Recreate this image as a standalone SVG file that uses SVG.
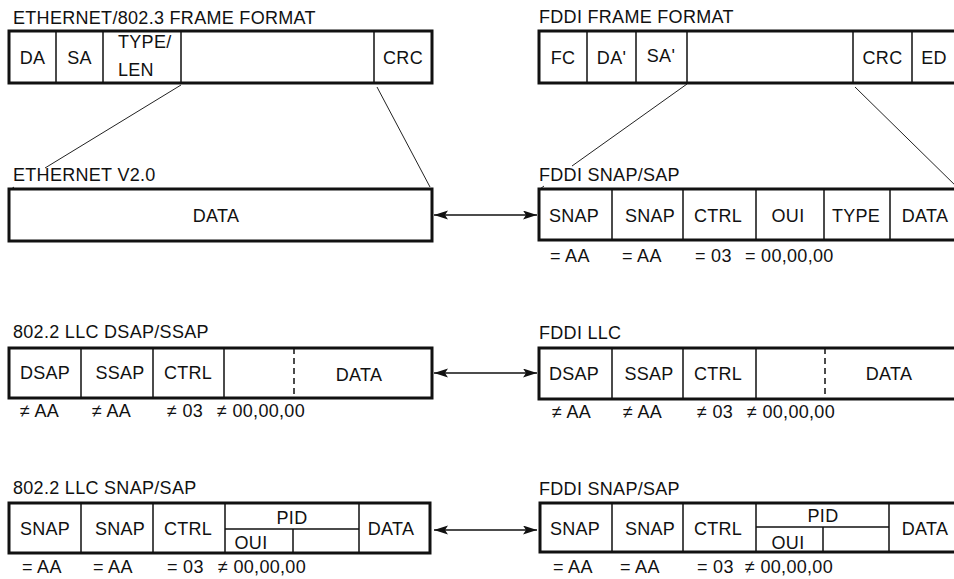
<svg xmlns="http://www.w3.org/2000/svg" width="954" height="579" viewBox="0 0 954 579">
  <style>
    .box { fill: #fff; stroke: #111; stroke-width: 3; }
    .div { stroke: #111; stroke-width: 1.5; fill: none; }
    .dash { stroke: #111; stroke-width: 1.5; stroke-dasharray: 6 4; fill: none; }
    .t { font-family: "Liberation Sans", Arial, Helvetica, sans-serif; font-size: 18px; letter-spacing: 0.3px; fill: #111; }
    .c { text-anchor: middle; }
    .link { stroke: #222; stroke-width: 1; fill: none; }
    .arr { stroke: #111; stroke-width: 1.5; fill: none; marker-start: url(#head); marker-end: url(#head); }
  </style>
  <defs>
    <marker id="head" markerUnits="userSpaceOnUse" markerWidth="16" markerHeight="10" refX="14" refY="4.5" orient="auto-start-reverse">
      <path d="M0,0 L14,4.5 L0,9 L3,4.5 Z" fill="#111"/>
    </marker>
  </defs>
  <rect width="954" height="579" fill="#fff"/>

  <!-- expansion lines and conversion arrows -->
  <g id="connectors">
    <line class="link" x1="181" y1="85" x2="45" y2="168"/>
    <line class="link" x1="14" y1="187" x2="10" y2="190"/>
    <line class="link" x1="377" y1="87" x2="430" y2="187"/>
    <line class="link" x1="687" y1="84" x2="572" y2="166"/>
    <line class="link" x1="544" y1="186" x2="540" y2="189"/>
    <line class="link" x1="855" y1="87" x2="960" y2="190"/>
    <line class="arr" x1="434" y1="215" x2="537" y2="215"/>
    <line class="arr" x1="434" y1="373" x2="537" y2="373"/>
    <line class="arr" x1="434" y1="530" x2="537" y2="530"/>
  </g>

  <!-- Ethernet / 802.3 frame -->
  <g id="eth-frame">
    <text class="t" x="13" y="24">ETHERNET/802.3 FRAME FORMAT</text>
    <rect class="box" x="9" y="31" width="423" height="52"/>
    <path class="div" d="M56,31V83 M103,31V83 M181,31V83 M374,31V83"/>
    <text class="t c" x="32.5" y="64">DA</text>
    <text class="t c" x="79.5" y="64">SA</text>
    <text class="t" x="118" y="48">TYPE/</text>
    <text class="t" x="118" y="76">LEN</text>
    <text class="t c" x="403" y="64">CRC</text>
  </g>

  <!-- FDDI frame -->
  <g id="fddi-frame">
    <text class="t" x="539" y="23">FDDI FRAME FORMAT</text>
    <rect class="box" x="539" y="31" width="430" height="52"/>
    <path class="div" d="M587,31V83 M636,31V83 M687,31V83 M853,31V83 M912,31V83"/>
    <text class="t c" x="563" y="64">FC</text>
    <text class="t c" x="611.5" y="64">DA'</text>
    <text class="t c" x="661" y="62">SA'</text>
    <text class="t c" x="882.5" y="64">CRC</text>
    <text class="t c" x="934" y="64">ED</text>
  </g>

  <!-- Ethernet V2.0 -->
  <g id="eth-v2">
    <text class="t" x="13" y="181">ETHERNET V2.0</text>
    <rect class="box" x="9" y="189" width="423" height="52"/>
    <text class="t c" x="216" y="222">DATA</text>
  </g>

  <!-- FDDI SNAP/SAP (upper) -->
  <g id="fddi-snap-1">
    <text class="t" x="539" y="181">FDDI SNAP/SAP</text>
    <rect class="box" x="539" y="189" width="430" height="51"/>
    <path class="div" d="M612,189V240 M683,189V240 M756,189V240 M824,189V240 M890,189V240"/>
    <text class="t c" x="574" y="222">SNAP</text>
    <text class="t c" x="650" y="222">SNAP</text>
    <text class="t c" x="718" y="222">CTRL</text>
    <text class="t c" x="788" y="222">OUI</text>
    <text class="t c" x="856" y="222">TYPE</text>
    <text class="t c" x="925" y="222">DATA</text>
    <text class="t" x="550" y="262">= AA</text>
    <text class="t" x="622" y="262">= AA</text>
    <text class="t" x="695" y="262">= 03</text>
    <text class="t" x="745" y="262">= 00,00,00</text>
  </g>

  <!-- 802.2 LLC DSAP/SSAP -->
  <g id="llc-dsap">
    <text class="t" x="13" y="338">802.2 LLC DSAP/SSAP</text>
    <rect class="box" x="9" y="348" width="423" height="50"/>
    <path class="div" d="M81,348V398 M153,348V398 M224,348V398"/>
    <path class="dash" d="M294,348V398"/>
    <text class="t c" x="45" y="379">DSAP</text>
    <text class="t c" x="120" y="379">SSAP</text>
    <text class="t c" x="188" y="379">CTRL</text>
    <text class="t c" x="359" y="381">DATA</text>
    <text class="t" x="20" y="417">≠ AA</text>
    <text class="t" x="92" y="417">≠ AA</text>
    <text class="t" x="167" y="417">≠ 03</text>
    <text class="t" x="217" y="417">≠ 00,00,00</text>
  </g>

  <!-- FDDI LLC -->
  <g id="fddi-llc">
    <text class="t" x="539" y="339">FDDI LLC</text>
    <rect class="box" x="539" y="348" width="430" height="51"/>
    <path class="div" d="M612,348V399 M683,348V399 M756,348V399"/>
    <path class="dash" d="M825,348V399"/>
    <text class="t c" x="574" y="380">DSAP</text>
    <text class="t c" x="649" y="380">SSAP</text>
    <text class="t c" x="718" y="380">CTRL</text>
    <text class="t c" x="889" y="380">DATA</text>
    <text class="t" x="552" y="418">≠ AA</text>
    <text class="t" x="623" y="418">≠ AA</text>
    <text class="t" x="697" y="418">≠ 03</text>
    <text class="t" x="747" y="418">≠ 00,00,00</text>
  </g>

  <!-- 802.2 LLC SNAP/SAP -->
  <g id="llc-snap">
    <text class="t" x="13" y="494">802.2 LLC SNAP/SAP</text>
    <rect class="box" x="9" y="503" width="421" height="50"/>
    <path class="div" d="M81,503V553 M153,503V553 M225,503V553 M359,503V553 M225,529H359 M293,529V553"/>
    <text class="t c" x="45" y="535">SNAP</text>
    <text class="t c" x="120" y="535">SNAP</text>
    <text class="t c" x="188" y="535">CTRL</text>
    <text class="t c" x="292" y="524">PID</text>
    <text class="t c" x="251" y="549">OUI</text>
    <text class="t c" x="391" y="535">DATA</text>
    <text class="t" x="22" y="573">= AA</text>
    <text class="t" x="93" y="573">= AA</text>
    <text class="t" x="167" y="573">= 03</text>
    <text class="t" x="218" y="573">≠ 00,00,00</text>
  </g>

  <!-- FDDI SNAP/SAP (lower) -->
  <g id="fddi-snap-2">
    <text class="t" x="539" y="495">FDDI SNAP/SAP</text>
    <rect class="box" x="540" y="503" width="430" height="49"/>
    <path class="div" d="M612,503V552 M683,503V552 M756,503V552 M889,503V552 M756,527H889 M823,527V552"/>
    <text class="t c" x="575" y="535">SNAP</text>
    <text class="t c" x="650" y="535">SNAP</text>
    <text class="t c" x="718" y="535">CTRL</text>
    <text class="t c" x="823" y="522">PID</text>
    <text class="t c" x="788" y="549">OUI</text>
    <text class="t c" x="925" y="535">DATA</text>
    <text class="t" x="553" y="573">= AA</text>
    <text class="t" x="620" y="573">= AA</text>
    <text class="t" x="697" y="573">= 03</text>
    <text class="t" x="745" y="573">≠ 00,00,00</text>
  </g>
</svg>
